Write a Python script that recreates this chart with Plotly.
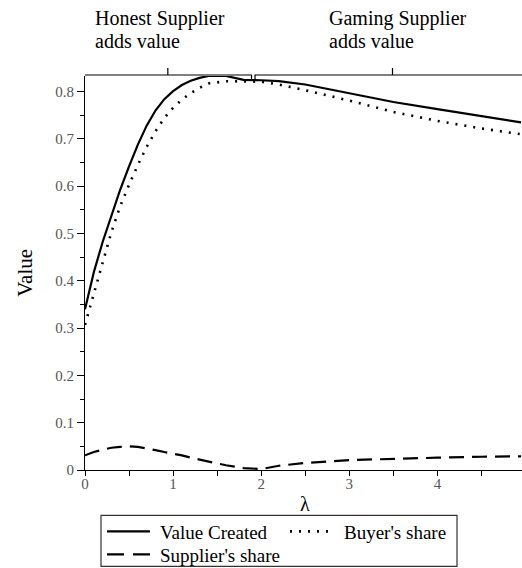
import plotly.graph_objects as go

lam = [0, 0.1, 0.2, 0.3, 0.4, 0.5, 0.6, 0.7, 0.8, 0.9, 1.0, 1.1, 1.2, 1.3, 1.4, 1.6, 1.8,
       2.0, 2.2, 2.5, 3.0, 3.5, 4.0, 4.5, 4.95]
value_created = [0.340, 0.418, 0.482, 0.540, 0.593, 0.642, 0.688, 0.728, 0.760, 0.784,
                 0.801, 0.814, 0.823, 0.829, 0.833, 0.833, 0.825, 0.824, 0.822, 0.815,
                 0.797, 0.778, 0.763, 0.748, 0.735]
buyer_share = [0.307, 0.370, 0.438, 0.503, 0.558, 0.603, 0.645, 0.683, 0.716, 0.744,
               0.766, 0.783, 0.797, 0.808, 0.817, 0.822, 0.822, 0.821, 0.815, 0.803,
               0.781, 0.757, 0.738, 0.722, 0.710]
supplier_share = [0.031, 0.038, 0.043, 0.047, 0.049, 0.050, 0.049, 0.046, 0.042, 0.038,
                  0.035, 0.031, 0.026, 0.022, 0.018, 0.010, 0.004, 0.002, 0.009, 0.015,
                  0.021, 0.024, 0.026, 0.028, 0.029]

y_ticks = [0, 0.1, 0.2, 0.3, 0.4, 0.5, 0.6, 0.7, 0.8]
x_ticks = [0, 1, 2, 3, 4]

FONT = "Liberation Serif"
W, H = 522, 568
ML, MR, MT, MB = 85, 0, 76, 97.5
PW, PH = W - ML - MR, H - MT - MB


def px(xp):
    return (xp - ML) / PW


def py(yp):
    return (H - MB - yp) / PH


styles = {
    "Value Created": dict(color="black", width=2.2),
    "Buyer's share": dict(color="black", width=2.6, dash="2px,7px"),
    "Supplier's share": dict(color="black", width=2.2, dash="15px,8px"),
}

fig = go.Figure()
for name, ys in [("Value Created", value_created), ("Buyer's share", buyer_share),
                 ("Supplier's share", supplier_share)]:
    fig.add_trace(go.Scatter(x=lam, y=ys, mode="lines", name=name,
                             line=styles[name], showlegend=False))

shapes = []
annotations = []

# brackets above the plot (x in data units)
br_y, br_end, br_tick = py(75), py(81), py(68)
brackets = [(-0.02, 1.89, 0.94, True), (1.93, 4.97, 3.49, False)]
for x0, x1, xc, close in brackets:
    path = f"M {x0},{br_end} L {x0},{br_y} L {x1},{br_y}"
    if close:
        path += f" L {x1},{br_end}"
    shapes.append(dict(type="path", xref="x", yref="paper", path=path,
                       line=dict(color="black", width=1.2)))
    shapes.append(dict(type="line", xref="x", yref="paper", x0=xc, x1=xc,
                       y0=br_y, y1=br_tick, line=dict(color="black", width=1.2)))

top_texts = [("Honest Supplier", 93, 18), ("adds value", 93, 40.5),
             ("Gaming Supplier", 327, 18), ("adds value", 327, 40.5)]
for t, xpix, ypix in top_texts:
    annotations.append(dict(text=t, xref="paper", yref="paper", x=px(xpix), y=py(ypix),
                            xanchor="left", yanchor="middle", showarrow=False,
                            font=dict(family=FONT, size=20, color="black")))

# axis titles
annotations.append(dict(text="λ", xref="paper", yref="paper", x=px(305), y=py(505),
                        xanchor="center", yanchor="middle", showarrow=False,
                        font=dict(family=FONT, size=20, color="black")))
annotations.append(dict(text="Value", xref="paper", yref="paper", x=px(25), y=py(273),
                        xanchor="center", yanchor="middle", showarrow=False, textangle=-90,
                        font=dict(family=FONT, size=21, color="black")))

# legend box
shapes.append(dict(type="rect", xref="paper", yref="paper", x0=px(101), x1=px(457),
                   y0=py(567), y1=py(516), line=dict(color="#333", width=1.2)))
legend_items = [("Value Created", 107, 150, 158, 532),
                ("Buyer's share", 290, 330, 342, 532),
                ("Supplier's share", 107, 150, 158, 555)]
for name, s0, s1, tx, ty in legend_items:
    st = dict(styles[name])
    if name == "Supplier's share":
        st["dash"] = "17px,9px"
    shapes.append(dict(type="line", xref="paper", yref="paper", x0=px(s0), x1=px(s1),
                       y0=py(ty), y1=py(ty), line=st))
    annotations.append(dict(text=name, xref="paper", yref="paper", x=px(tx), y=py(ty + 1),
                            xanchor="left", yanchor="middle", showarrow=False,
                            font=dict(family=FONT, size=19, color="black")))

fig.update_layout(
    width=W, height=H,
    margin=dict(l=ML, r=MR, t=MT, b=MB, autoexpand=False),
    paper_bgcolor="white", plot_bgcolor="white",
    font=dict(family=FONT, color="black"),
    showlegend=False,
    shapes=shapes, annotations=annotations,
    xaxis=dict(range=[0, 4.96], tickvals=x_ticks, showgrid=False, zeroline=False,
               showline=True, linecolor="black", linewidth=1.2, automargin=False,
               ticks="outside", ticklen=5, tickcolor="black", ticklabelstandoff=-5,
               minor=dict(dtick=0.5, tick0=0, ticks="outside", ticklen=5, tickcolor="black"),
               tickfont=dict(family=FONT, size=15, color="#555")),
    yaxis=dict(range=[0, 0.833], tickvals=y_ticks, ticktext=[str(v) for v in y_ticks],
               showgrid=False, zeroline=False, automargin=False,
               showline=True, linecolor="black", linewidth=1.2,
               ticks="outside", ticklen=7, tickcolor="black",
               minor=dict(dtick=0.05, tick0=0, ticks="outside", ticklen=4, tickcolor="black"),
               tickfont=dict(family=FONT, size=15, color="#555")),
)

fig.write_html("out.html", config={"displayModeBar": False},
               post_script="document.body.style.margin='0';document.body.style.overflow='hidden';")
